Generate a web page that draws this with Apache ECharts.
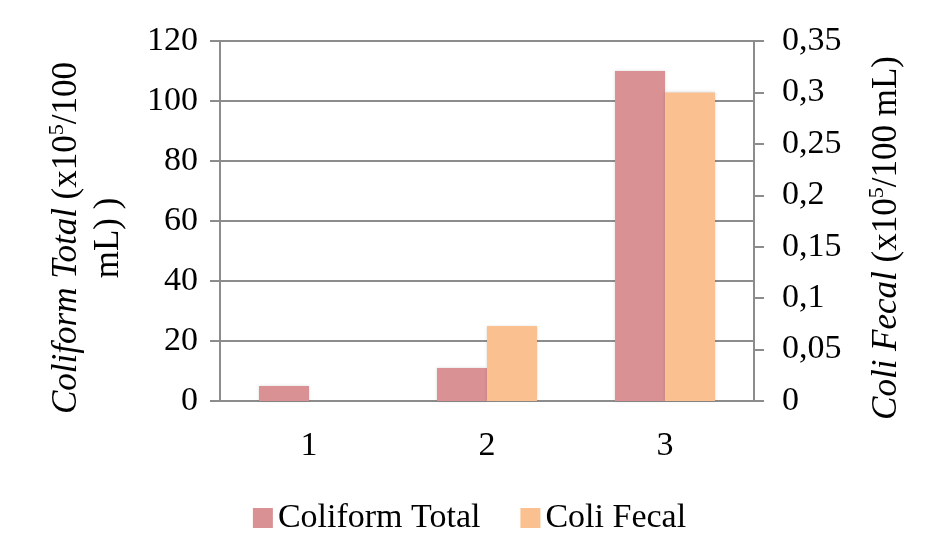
<!DOCTYPE html>
<html>
<head>
<meta charset="utf-8">
<script src="https://cdn.jsdelivr.net/npm/echarts@6/dist/echarts.min.js"></script>
<style>
  html, body { margin: 0; padding: 0; background: #fff; }
  #chart { width: 939px; height: 560px; }
</style>
</head>
<body>
<div id="chart"></div>
<script>
const categories = ["1", "2", "3"];
const coliformTotal = [5, 11, 110];
const coliFecal = [0, 0.073, 0.3];
const leftMax = 120, leftStep = 20;
const rightMax = 0.35, rightStep = 0.05;

let myChart = echarts.init(document.getElementById("chart"));
let font = "Liberation Serif";
let ink = "#000";
let lineOption = { lineStyle: { color: "#8c8c8c", width: 2 } };
let nameRich = {
  i: { fontStyle: "italic", fontSize: 35, fontFamily: font, color: ink, lineHeight: 42 },
  n: { fontSize: 35, fontFamily: font, color: ink, lineHeight: 42 },
  s: { fontSize: 22, fontFamily: font, color: ink, lineHeight: 22, verticalAlign: "top" }
};

myChart.setOption({
  animation: false,
  textStyle: { fontFamily: font },
  grid: { left: 220, right: 185, top: 41, bottom: 159 },
  legend: {
    bottom: 20,
    left: "center",
    icon: "rect",
    itemWidth: 20,
    itemHeight: 20,
    itemGap: 40,
    itemStyle: { shadowBlur: 0 },
    textStyle: { fontSize: 34, color: ink, fontFamily: font }
  },
  xAxis: {
    type: "category",
    data: categories,
    axisLine: lineOption,
    axisTick: { length: 10, lineStyle: { color: "#8c8c8c", width: 2 } },
    axisLabel: { margin: 28, fontSize: 34, color: ink }
  },
  yAxis: [
    {
      type: "value",
      min: 0,
      max: leftMax,
      interval: leftStep,
      axisLine: { show: true, lineStyle: { color: "#8c8c8c", width: 2 } },
      axisTick: { show: true, length: 10, lineStyle: { color: "#8c8c8c", width: 2 } },
      splitLine: lineOption,
      axisLabel: { margin: 22, fontSize: 34, color: ink },
      name: "{i|Coliform Total}{n| (x10}{s|5}{n|/100}\n{n|mL) )}",
      nameLocation: "middle",
      nameRotate: 90,
      nameGap: 90,
      nameTextStyle: { rich: nameRich, align: "center", padding: [0, 34, 0, 0] }
    },
    {
      type: "value",
      min: 0,
      max: rightMax,
      interval: rightStep,
      position: "right",
      axisLine: { show: true, lineStyle: { color: "#8c8c8c", width: 2 } },
      axisTick: { show: true, length: 10, lineStyle: { color: "#8c8c8c", width: 2 } },
      splitLine: { show: false },
      axisLabel: {
        margin: 28,
        fontSize: 34,
        color: ink,
        formatter: function (v) { return String(+v.toFixed(2)).replace(".", ","); }
      },
      name: "{i|Coli Fecal}{n| (x10}{s|5}{n|/100 mL)}",
      nameLocation: "middle",
      nameRotate: 90,
      nameGap: 112,
      nameTextStyle: { rich: nameRich, padding: [0, 34, 0, 0] }
    }
  ],
  series: [
    {
      name: "Coliform Total",
      type: "bar",
      data: coliformTotal,
      yAxisIndex: 0,
      barWidth: 50,
      barGap: "0%",
      itemStyle: { color: "#d99194", shadowBlur: 3, shadowColor: "rgba(0,0,0,0.15)" }
    },
    {
      name: "Coli Fecal",
      type: "bar",
      data: coliFecal,
      yAxisIndex: 1,
      barWidth: 50,
      barGap: "0%",
      itemStyle: { color: "#fac08f", shadowBlur: 3, shadowColor: "rgba(0,0,0,0.15)" }
    }
  ]
});
</script>
</body>
</html>
